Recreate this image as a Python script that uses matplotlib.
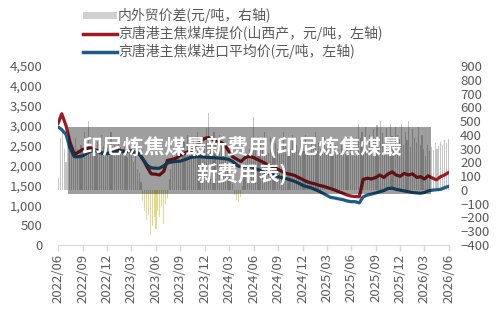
import matplotlib
matplotlib.use("Agg")
import matplotlib.pyplot as plt
import matplotlib.dates as mdates
from matplotlib.ticker import FuncFormatter, MultipleLocator
from matplotlib.patches import Rectangle, Patch
from matplotlib.lines import Line2D
import pandas as pd
import numpy as np

plt.rcParams['font.family'] = ['Noto Sans CJK SC', 'DejaVu Sans']

# ---- data ----
line_dates = pd.date_range("2022-06-01", "2026-06-01", freq="SMS")  # 1st & 15th

red_price = [  # 京唐港主焦煤库提价 (山西产)
    3050, 3300, 3000, 2600, 2280, 2330, 2400, 2420, 2440, 2400,
    2360, 2300, 2300, 2320, 2350, 2380, 2360, 2350, 2340, 2320,
    2300, 2150, 1950, 1790, 1780, 1760, 1850, 2130, 2150, 2180,
    2250, 2300, 2350, 2390, 2500, 2600, 2680, 2700, 2650, 2600,
    2580, 2500, 2350, 2220, 2150, 2100, 2200, 2230, 2200, 2150,
    2100, 2050, 2000, 1950, 1900, 1850, 1800, 1780, 1750, 1700,
    1650, 1600, 1560, 1540, 1500, 1480, 1450, 1420, 1380, 1340,
    1300, 1260, 1230, 1220, 1215, 1650, 1680, 1660, 1700, 1760,
    1700, 1780, 1840, 1760, 1730, 1800, 1760, 1790, 1700, 1720,
    1660, 1740, 1680, 1640, 1720, 1760, 1830,
]

blue_price = [  # 京唐港主焦煤进口平均价
    2970, 2900, 2780, 2450, 2220, 2220, 2240, 2300, 2360, 2380,
    2340, 2310, 2300, 2310, 2330, 2340, 2350, 2360, 2370, 2340,
    2280, 2150, 2000, 1940, 1930, 1930, 1990, 2060, 2090, 2100,
    2110, 2140, 2180, 2210, 2220, 2220, 2210, 2200, 2200, 2190,
    2180, 2170, 2150, 2100, 2000, 1960, 1980, 1970, 1950, 1900,
    1860, 1820, 1800, 1760, 1720, 1690, 1670, 1640, 1600, 1560,
    1500, 1470, 1440, 1400, 1350, 1300, 1250, 1200, 1180, 1160,
    1140, 1110, 1090, 1090, 1060, 1210, 1260, 1280, 1310, 1340,
    1370, 1420, 1430, 1400, 1380, 1360, 1340, 1320, 1310, 1300,
    1320, 1360, 1380, 1390, 1400, 1440, 1480,
]

bar_dates = pd.date_range("2022-06-03", periods=209, freq="7D")
spread = [  # 内外贸价差 (right axis)
    90, 380, 420, 300, 200, 350, 280, 320, 260, 380, 300, 250, 330,
    300, 420, 260, 500, 340, 280, 380, 300, 350, 270, 400, 320, 290,
    350, 300, 420, 280, 330, 260, 380, 310, 270, 350, 300, 240, 320,
    280, 200, 250, 150, 120, 60, -80, -150, -220, -180, -330, -260, -200,
    -280, -150, -200, -120, -250, -100, -60, 80, 150, 250, 200, 300, 260,
    220, 300, 350, 280, 400, 320, 260, 380, 300, 420, 350, 280, 390,
    330, 450, 560, 380, 300, 420, 350, 280, 400, 320, 250, 300, 200,
    150, 80, 40, -40, -70, -90, -50, 30, 120, 200, 260, 300, 250,
    530, 300, 380, 260, 350, 290, 420, 320, 270, 380, 300, 250, 340,
    300, 380, 260, 420, 320, 280, 350, 300, 400, 270, 330, 290, 360,
    310, 280, 400, 330, 260, 350, 300, 420, 280, 340, 300, 260, 380,
    320, 280, 360, 300, 250, 330, 290, 270, 350, 300, 260, 320, 280,
    300, 270, 250, 300, 480, 380, 420, 350, 460, 300, 400, 350, 440,
    380, 470, 320, 500, 410, 360, 450, 300, 480, 390, 350, 460, 400,
    370, 480, 330, 420, 360, 500, 310, 440, 380, 350, 460, 330, 400,
    300, 250, 330, 280, 310, 290, 340, 300, 320, 350, 330, 360, 340, 370,
]

legend_labels = ["内外贸价差(元/吨，右轴)",
                 "京唐港主焦煤库提价(山西产，元/吨，左轴)",
                 "京唐港主焦煤进口平均价(元/吨，左轴)"]
overlay_title = "印尼炼焦煤最新费用(印尼炼焦煤最\n新费用表)"

# ---- styles ----
RED = "#9a1b22"
BLUE = "#1f5b86"
GRAY_BAR = "#c4c4c4"
YELLOW_BAR = "#e3d98a"
TXT = "#595959"

fig = plt.figure(figsize=(5.0, 3.22), dpi=100)
ax = fig.add_axes([0.116, 0.239, 0.782, 0.556])
ax2 = ax.twinx()

colors = [GRAY_BAR if v >= 0 else YELLOW_BAR for v in spread]
ax2.bar(bar_dates, spread, width=4.2, color=colors, linewidth=0)
ax2.set_ylim(-400, 900)
ax2.yaxis.set_major_locator(MultipleLocator(100))

ax.plot(line_dates, red_price, color=RED, lw=2.3, solid_capstyle='round')
ax.plot(line_dates, blue_price, color=BLUE, lw=2.3, solid_capstyle='round')
ax.set_ylim(0, 4500)
ax.yaxis.set_major_locator(MultipleLocator(500))
ax.yaxis.set_major_formatter(FuncFormatter(lambda v, p: f"{v:,.0f}"))

ax.set_zorder(ax2.get_zorder() + 1)
ax.patch.set_visible(False)

ax.set_xlim(pd.Timestamp("2022-06-01"), pd.Timestamp("2026-06-01"))
ax.xaxis.set_major_locator(mdates.MonthLocator(bymonth=[3, 6, 9, 12]))
ax.xaxis.set_major_formatter(mdates.DateFormatter("%Y/%m"))

for a in (ax, ax2):
    for s in ("left", "right", "top", "bottom"):
        a.spines[s].set_visible(False)
ax.spines["bottom"].set_visible(True)
ax.spines["bottom"].set_color("#d9d9d9")
ax.tick_params(axis='x', colors="#d9d9d9", length=4, width=1, labelcolor=TXT,
               labelsize=9.5, rotation=90, pad=2)
ax.tick_params(axis='y', length=0, labelcolor=TXT, labelsize=9.5, pad=11)
ax2.tick_params(axis='y', length=0, labelcolor=TXT, labelsize=9.5, pad=8)

handles = [Patch(facecolor="#d0d0d0", edgecolor='none'),
           Line2D([], [], color=RED, lw=2.5),
           Line2D([], [], color=BLUE, lw=2.5)]
leg = fig.legend(handles, legend_labels, loc="upper left",
                 bbox_to_anchor=(0.15, 1.0), frameon=False, fontsize=10,
                 handlelength=2.4, handleheight=0.45, handletextpad=0.1,
                 labelspacing=0.2, borderaxespad=0.2, labelcolor=TXT)

# overlay title box
fig.patches.append(Rectangle((68 / 500, 1 - 194 / 322), 363 / 500, 67 / 322,
                             transform=fig.transFigure, facecolor="black",
                             alpha=0.38, edgecolor='none', zorder=10))
fig.text(0.484, 1 - 160 / 322, overlay_title, ha='center', va='center',
         color='white', fontsize=15, fontweight='bold', linespacing=1.25,
         zorder=11)

fig.savefig("out.png", dpi=100)
